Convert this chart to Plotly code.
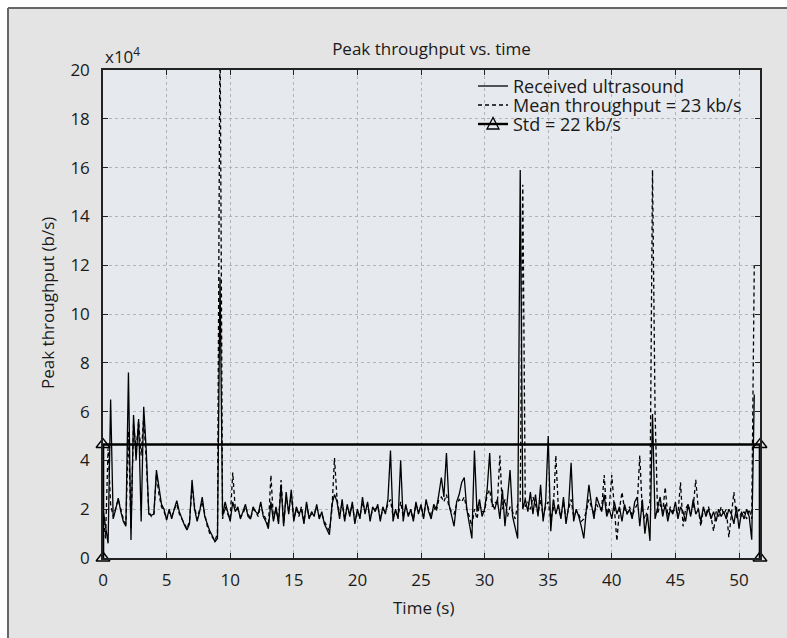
import plotly.graph_objects as go

# Peak throughput, in units of 10^4 b/s, sampled every 0.2 s
received_ultrasound = [
    2.0, 1.2, 0.6, 6.5, 1.6,
    2.0, 2.45, 1.9, 1.5, 1.3,
    7.6, 0.74, 5.86, 4.0, 5.7,
    1.5, 6.2, 4.4, 1.8, 1.75,
    1.8, 3.6, 2.8, 2.2, 2.0,
    1.55, 2.0, 1.6, 2.0, 2.35,
    1.9, 1.6, 1.35, 1.15, 1.4,
    3.2, 2.0, 1.5, 1.9, 2.5,
    1.7, 1.4, 1.1, 0.9, 0.67,
    0.8, 11.5, 1.7, 2.3, 1.9,
    1.5, 2.3, 1.9, 2.1, 1.6,
    1.9, 2.2, 1.7, 1.6, 2.1,
    1.9, 1.8, 2.3, 1.7, 1.5,
    1.2, 2.3, 1.5, 2.1, 1.4,
    3.0, 1.3, 2.7, 1.8, 2.8,
    1.5, 2.1, 1.8, 2.0, 1.4,
    2.3, 1.6, 1.9, 1.7, 2.2,
    1.6, 1.9, 1.4, 1.2, 0.95,
    2.2, 2.6, 2.3, 1.6, 2.4,
    1.5, 2.2, 1.7, 2.3, 1.4,
    2.0, 1.6, 2.5, 1.8, 2.3,
    1.5, 2.1, 1.9, 2.2, 1.5,
    2.1, 1.8, 2.4, 4.4, 1.5,
    2.0, 1.6, 4.0, 1.5, 2.2,
    1.7, 2.0, 1.5, 2.3, 1.8,
    2.2, 1.6, 2.4, 1.9, 1.6,
    2.2, 2.0, 2.6, 3.3, 2.5,
    4.3, 2.2, 1.8, 1.3, 2.3,
    2.6, 3.1, 3.3, 2.0, 1.4,
    0.8, 4.4, 1.9, 2.4, 1.7,
    2.0, 2.8, 4.3, 2.2, 2.0,
    2.4, 1.6, 2.8, 1.3, 2.5,
    3.6, 1.7, 1.3, 0.8, 15.9,
    2.0, 2.4, 1.9, 2.7, 1.8,
    2.6, 1.7, 3.0, 1.5, 2.3,
    5.0, 1.1, 2.4, 1.8, 2.2,
    1.6, 2.5, 1.4, 2.1, 3.9,
    1.5, 2.0, 1.7, 1.3, 0.8,
    2.0, 3.0, 2.2, 1.6, 2.5,
    2.2, 1.9, 2.6, 1.7, 2.0,
    1.6, 2.3, 1.8, 2.1, 1.5,
    2.2, 1.8, 2.0, 1.6, 2.3,
    2.5, 1.3, 2.4, 1.0, 1.8,
    0.7, 5.9, 1.6, 2.1, 2.5,
    1.7, 2.2, 1.5, 2.0, 1.8,
    2.3, 1.6, 2.1, 1.9, 1.5,
    2.2, 1.7, 2.4, 1.8, 2.0,
    1.5, 2.1, 1.7, 2.0, 1.6,
    1.9, 1.5, 2.0, 1.7, 1.9,
    1.6, 2.0, 1.8, 1.4, 2.1,
    1.2, 1.9, 1.6, 2.0, 1.7,
    0.75, 6.7,
]

mean_throughput = [
    1.8, 0.8, 4.5, 2.2, 1.7,
    2.1, 2.4, 2.0, 1.6, 1.4,
    5.2, 1.2, 5.5, 4.4, 5.6,
    4.2, 5.8, 4.0, 1.9, 1.7,
    1.8, 3.4, 2.6, 2.1, 1.9,
    1.6, 1.9, 1.7, 2.0, 2.2,
    1.8, 1.6, 1.4, 1.2, 1.5,
    2.9, 2.1, 1.6, 2.0, 2.3,
    1.8, 1.3, 1.0, 0.85, 0.7,
    1.0, 22.0, 1.6, 2.1, 1.8,
    1.6, 3.5, 2.0, 2.0, 1.7,
    1.8, 2.1, 1.8, 1.6, 2.0,
    1.9, 1.7, 2.2, 1.8, 1.6,
    1.3, 3.4, 1.6, 2.0, 1.5,
    3.2, 1.4, 2.5, 1.9, 2.6,
    1.6, 2.0, 1.7, 2.1, 1.5,
    2.2, 1.7, 1.8, 1.8, 2.1,
    1.7, 1.8, 1.5, 1.3, 1.1,
    2.0, 4.1, 2.4, 1.8, 2.2,
    1.6, 2.1, 1.8, 2.2, 1.5,
    1.9, 1.7, 2.3, 1.9, 2.2,
    1.6, 2.0, 2.0, 2.1, 1.6,
    2.0, 1.9, 2.2, 2.4, 1.7,
    1.9, 1.7, 2.3, 1.7, 2.1,
    1.8, 1.9, 1.6, 2.2, 1.9,
    2.1, 1.7, 2.3, 2.0, 1.7,
    2.1, 1.9, 2.4, 2.5, 2.3,
    2.6, 2.1, 1.9, 1.8, 2.2,
    2.4, 2.3, 2.5, 2.0, 1.7,
    1.3, 2.0, 1.6, 2.2, 1.9,
    1.9, 2.6, 2.8, 2.1, 2.3,
    2.2, 4.2, 2.0, 2.4, 1.7,
    2.1, 1.9, 1.6, 2.2, 2.3,
    15.3, 2.1, 2.3, 2.0, 2.5,
    2.2, 1.8, 2.4, 1.7, 2.1,
    2.3, 1.6, 2.0, 4.2, 2.0,
    1.7, 2.3, 1.6, 2.0, 2.4,
    1.7, 1.9, 1.8, 1.5, 1.6,
    1.9, 2.4, 2.1, 1.8, 2.2,
    2.0, 2.0, 3.4, 1.8, 2.1,
    3.4, 1.9, 0.7, 2.0, 2.7,
    2.0, 1.8, 2.1, 1.7, 2.0,
    2.2, 4.2, 1.9, 1.6, 2.0,
    2.3, 15.9, 6.0, 1.8, 2.2,
    1.9, 2.9, 1.7, 2.1, 1.9,
    2.0, 1.8, 3.1, 1.3, 2.0,
    2.2, 1.8, 2.1, 3.2, 2.0,
    1.3, 2.0, 1.8, 2.1, 1.7,
    1.1, 1.9, 1.7, 2.1, 1.8,
    2.0, 0.85, 1.9, 2.7, 1.6,
    2.0, 1.7, 1.9, 1.6, 2.0,
    1.6, 12.0,
]

sample_step_s = 0.2
time_s = [round(i * sample_step_s, 1) for i in range(len(received_ultrasound))]

std_level = 4.65      # x10^4 b/s
t_end = 51.65         # s
std_x = [0, 0, t_end, t_end]
std_y = [0, std_level, std_level, 0]

x_ticks = [0, 5, 10, 15, 20, 25, 30, 35, 40, 45, 50]
y_ticks = [0, 2, 4, 6, 8, 10, 12, 14, 16, 18, 20]

legend_labels = ["Received ultrasound", "Mean throughput = 23 kb/s", "Std = 22 kb/s"]

FONT = "Open Sans"
INK = "#1a1a1a"

# body margin removed by post_script -> figure fills the page from (0, 0)
W, H = 787, 638
FRAME = 8                       # gray panel with a frame line starts at (8, 8)
PL, PR, PT, PB = 103, 760, 70, 558
pw, ph = PR - PL, PB - PT


def px_x(x):
    return (x - PL) / pw


def px_y(y):
    return (PB - y) / ph


fig = go.Figure()
fig.add_trace(go.Scatter(
    x=time_s, y=received_ultrasound, mode="lines", name=legend_labels[0],
    line=dict(color="black", width=1.3), showlegend=False))
fig.add_trace(go.Scatter(
    x=time_s, y=mean_throughput, mode="lines", name=legend_labels[1],
    line=dict(color="black", width=1.3, dash="4px,3px"), showlegend=False))
fig.add_trace(go.Scatter(
    x=std_x, y=std_y, mode="lines+markers", name=legend_labels[2],
    line=dict(color="black", width=2.6),
    marker=dict(symbol="triangle-up-open", size=12, color="black", line=dict(width=1.4)),
    cliponaxis=False, showlegend=False))

axis_common = dict(
    showline=True, linecolor="#222", linewidth=1.5, mirror="ticks",
    ticks="inside", ticklen=5, tickcolor="#222", tickwidth=1.2,
    showgrid=True, gridcolor="#b4b4b4", gridwidth=1, griddash="dot",
    zeroline=False, tickfont=dict(family=FONT, size=17, color=INK),
)

fig.update_xaxes(range=[0, t_end], tickvals=x_ticks, ticklabelstandoff=6, **axis_common)
fig.update_yaxes(range=[0, 20], tickvals=y_ticks, ticklabelstandoff=8, **axis_common)

# white outside the frame, gray inside
shapes = [
    dict(type="rect", xref="paper", yref="paper", layer="below",
         x0=px_x(-5), x1=px_x(FRAME), y0=px_y(H + 5), y1=px_y(-5),
         fillcolor="white", line=dict(width=0)),
    dict(type="rect", xref="paper", yref="paper", layer="below",
         x0=px_x(-5), x1=px_x(W + 5), y0=px_y(FRAME), y1=px_y(-5),
         fillcolor="white", line=dict(width=0)),
    dict(type="line", xref="paper", yref="paper", x0=px_x(FRAME), x1=px_x(FRAME),
         y0=px_y(H + 20), y1=px_y(FRAME), line=dict(color="#666", width=2)),
    dict(type="line", xref="paper", yref="paper", x0=px_x(FRAME), x1=px_x(W + 20),
         y0=px_y(FRAME), y1=px_y(FRAME), line=dict(color="#666", width=2)),
]

# custom legend (tight rows like the reference)
leg_rows_y = [86, 105, 124]
leg_x0, leg_x1, leg_tx = 478, 508, 511
shapes += [
    dict(type="line", xref="paper", yref="paper", x0=px_x(leg_x0), x1=px_x(leg_x1),
         y0=px_y(leg_rows_y[0]), y1=px_y(leg_rows_y[0]), line=dict(color="black", width=1.3)),
    dict(type="line", xref="paper", yref="paper", x0=px_x(leg_x0), x1=px_x(leg_x1),
         y0=px_y(leg_rows_y[1]), y1=px_y(leg_rows_y[1]),
         line=dict(color="black", width=1.3, dash="4px,3px")),
    dict(type="line", xref="paper", yref="paper", x0=px_x(leg_x0), x1=px_x(leg_x1),
         y0=px_y(leg_rows_y[2]), y1=px_y(leg_rows_y[2]), line=dict(color="black", width=2.4)),
]
cx, cy = (leg_x0 + leg_x1) / 2, leg_rows_y[2]
tri = [(cx, cy - 6.5), (cx - 6, cy + 5), (cx + 6, cy + 5)]
path = "M {} {} L {} {} L {} {} Z".format(*[v for p in tri for v in (px_x(p[0]), px_y(p[1]))])
shapes.append(dict(type="path", xref="paper", yref="paper", path=path,
                   line=dict(color="black", width=1.3), fillcolor="rgba(0,0,0,0)"))

annotations = [
    dict(text="x10<sup>4</sup>", xref="paper", yref="paper", x=0, y=1,
         xanchor="left", yanchor="bottom", yshift=0, showarrow=False,
         font=dict(family=FONT, size=17, color=INK)),
    dict(text="Time (s)", xref="paper", yref="paper", x=px_x(423), y=px_y(607),
         xanchor="center", yanchor="middle", showarrow=False,
         font=dict(family=FONT, size=17, color=INK)),
    dict(text="Peak throughput (b/s)", xref="paper", yref="paper", x=px_x(47), y=px_y(303),
         xanchor="center", yanchor="middle", textangle=-90, showarrow=False,
         font=dict(family=FONT, size=17, color=INK)),
]
for label, ry in zip(legend_labels, leg_rows_y):
    annotations.append(dict(text=label, xref="paper", yref="paper", x=px_x(leg_tx), y=px_y(ry),
                            xanchor="left", yanchor="middle", showarrow=False,
                            font=dict(family=FONT, size=18, color=INK)))

fig.update_layout(
    width=W, height=H,
    margin=dict(l=PL, r=W - PR, t=PT, b=H - PB),
    paper_bgcolor="#e4e4e4",
    plot_bgcolor="#e6e9ee",
    font=dict(family=FONT, color=INK),
    title=dict(text="Peak throughput vs. time", font=dict(family=FONT, size=17, color=INK),
               x=0.5, xref="paper", xanchor="center",
               y=1 - 49 / H, yref="container", yanchor="middle"),
    showlegend=False,
    hovermode=False,
    annotations=annotations,
    shapes=shapes,
)

fig.write_html("out.html",
               config={"displayModeBar": False},
               post_script="document.body.style.margin='0';"
                           "document.documentElement.style.overflow='hidden';"
                           "document.body.style.overflow='hidden';")
